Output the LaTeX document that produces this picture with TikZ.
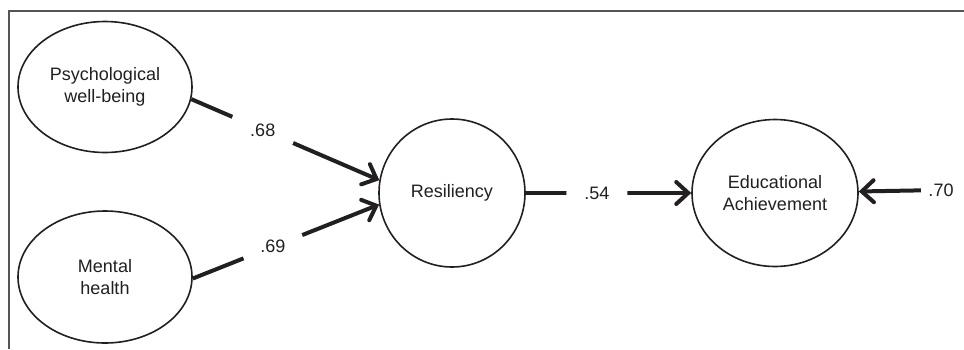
\documentclass[tikz,border=0pt]{standalone}
\usepackage{fontspec}
\setmainfont{Liberation Sans}
\usetikzlibrary{shapes.geometric,arrows.meta}
\definecolor{ink}{HTML}{231F20}
\definecolor{framecol}{HTML}{555555}
\begin{document}
\begin{tikzpicture}[x=1pt,y=-1pt,
  txt/.style={font=\fontsize{18}{22}\selectfont,text=ink},
  lat/.style={ellipse,draw=ink,line width=1.6pt,inner sep=0pt,align=center,txt},
  arr/.style={draw=ink,line width=4pt,-{Straight Barb[length=12pt,width=22pt,line cap=round]}},
  gap/.style={circle,fill=white,inner sep=0pt,txt},
  frame/.style={draw=framecol,line width=1.3pt}]
\useasboundingbox (0,0) rectangle (964,349);
\fill[white] (0,0) rectangle (964,349);
% frame
\draw[frame] (8,11) -- (964,11);
\draw[frame] (9,11) -- (9,349);
% nodes
\node[lat,minimum width=174pt,minimum height=131pt] (pwb) at (105,87) {Psychological\\well-being};
\node[lat,minimum width=174pt,minimum height=132pt] (mh) at (105,277) {Mental\\health};
\node[lat,minimum width=146pt,minimum height=148pt] (res) at (452,193) {Resiliency};
\node[lat,minimum width=166pt,minimum height=147pt] (ea) at (775,193) {Educational\\Achievement};
\node[txt,inner sep=0pt,minimum width=40pt] (e70) at (941,190) {.70};
% connectors
\draw[arr] (pwb.-8) -- node[gap,pos=0.38,minimum size=66pt] {.68} (res.170);
\draw[arr] (mh.-1) -- node[gap,pos=0.43,minimum size=63pt] {.69} (res.189);
\draw[arr] (res) -- node[gap,pos=0.43,minimum size=61pt] {.54} (ea);
\draw[arr] (e70) -- (ea);
\end{tikzpicture}
\end{document}
